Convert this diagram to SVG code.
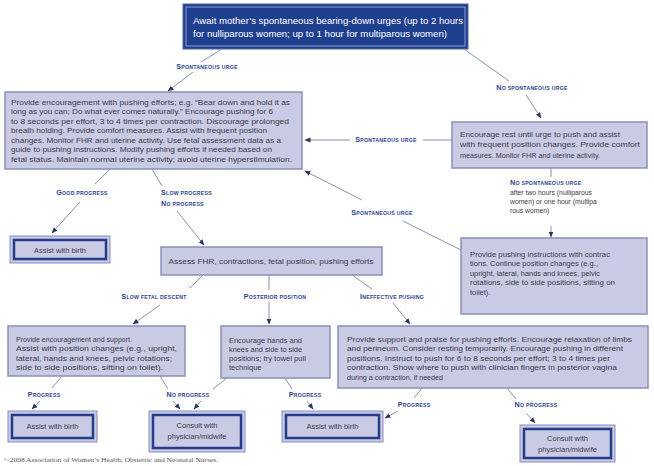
<svg xmlns="http://www.w3.org/2000/svg" width="654" height="466" viewBox="0 0 654 466">
<defs>
<marker id="ah" markerUnits="userSpaceOnUse" markerWidth="6" markerHeight="6" refX="5.5" refY="3" orient="auto"><path d="M0,0.5 L6,3 L0,5.5 z" fill="#2a3566"/></marker>
<style>
.box{fill:#c9cae4;stroke:#8a8fb8;stroke-width:1.5}
.t{font-family:"Liberation Sans",Arial,sans-serif;font-size:7.5px;fill:#3b3b4a}
.lb{font-family:"Liberation Sans",Arial,sans-serif;font-size:5.2px;font-weight:bold;fill:#2c4390;letter-spacing:0.25px}
.lb .c{font-size:7.2px}
.sub{font-family:"Liberation Sans",Arial,sans-serif;font-size:6.8px;fill:#3b3b4a}
.cn line,.cn path{stroke:#8b8fb3;stroke-width:1;fill:none}
.ar{marker-end:url(#ah)}
.touter{fill:#c9cae4;stroke:#8a8fb8;stroke-width:1}
.tinner{fill:#c9cae4;stroke:#243c8a;stroke-width:2.5}
</style>
</defs>
<rect width="654" height="466" fill="#ffffff"/>

<g id="top">
<rect x="183" y="4" width="285" height="45" fill="#1f3f8f" stroke="#4f65a8" stroke-width="1"/>
<rect x="186" y="7" width="279" height="39" fill="none" stroke="#aab6da" stroke-width="0.8"/>
<text x="193" y="24" font-family="'Liberation Sans',Arial,sans-serif" font-size="9.3" fill="#ffffff" textLength="270" lengthAdjust="spacingAndGlyphs">Await mother’s spontaneous bearing-down urges (up to 2 hours</text>
<text x="193" y="37" font-family="'Liberation Sans',Arial,sans-serif" font-size="9.3" fill="#ffffff" textLength="254" lengthAdjust="spacingAndGlyphs">for nulliparous women; up to 1 hour for multiparous women)</text>
</g>

<g id="boxA">
<rect class="box" x="5" y="92" width="297" height="77"/>
<text class="t" x="11" y="104.5" textLength="279" lengthAdjust="spacingAndGlyphs">Provide encouragement with pushing efforts; e.g. “Bear down and hold it as</text>
<text class="t" x="11" y="114" textLength="262" lengthAdjust="spacingAndGlyphs">long as you can; Do what ever comes naturally.” Encourage pushing for 6</text>
<text class="t" x="11" y="123.5" textLength="278" lengthAdjust="spacingAndGlyphs">to 8 seconds per effort, 3 to 4 times per contraction. Discourage prolonged</text>
<text class="t" x="11" y="133" textLength="256" lengthAdjust="spacingAndGlyphs">breath holding. Provide comfort measures. Assist with frequent position</text>
<text class="t" x="11" y="142.5" textLength="270" lengthAdjust="spacingAndGlyphs">changes. Monitor FHR and uterine activity. Use fetal assessment data as a</text>
<text class="t" x="11" y="152" textLength="261" lengthAdjust="spacingAndGlyphs">guide to pushing instructions. Modify pushing efforts if needed based on</text>
<text class="t" x="11" y="161.5" textLength="281" lengthAdjust="spacingAndGlyphs">fetal status. Maintain normal uterine activity; avoid uterine hyperstimulation.</text>
</g>

<g id="boxB">
<rect class="box" x="452" y="122" width="195" height="46"/>
<text class="t" x="460" y="136.5" textLength="160" lengthAdjust="spacingAndGlyphs">Encourage rest until urge to push and assist</text>
<text class="t" x="460" y="147" textLength="180" lengthAdjust="spacingAndGlyphs">with frequent position changes.  Provide comfort</text>
<text class="t" x="460" y="157.5" textLength="140" lengthAdjust="spacingAndGlyphs">measures.  Monitor FHR and uterine activity.</text>
</g>

<g id="boxC">
<rect class="box" x="461" y="238" width="186" height="76"/>
<text class="t" x="470" y="256.5" textLength="140" lengthAdjust="spacingAndGlyphs">Provide pushing instructions with contrac</text>
<text class="t" x="470" y="266" textLength="128" lengthAdjust="spacingAndGlyphs">tions. Continue position changes (e.g.,</text>
<text class="t" x="470" y="275.5" textLength="130" lengthAdjust="spacingAndGlyphs">upright, lateral, hands and knees, pelvic</text>
<text class="t" x="470" y="285" textLength="145" lengthAdjust="spacingAndGlyphs">rotations, side to side positions, sitting on</text>
<text class="t" x="470" y="294.5">toilet).</text>
</g>

<g id="assess">
<rect class="box" x="161" y="247" width="221" height="28"/>
<text class="t" x="271" y="263.5" text-anchor="middle" textLength="205" lengthAdjust="spacingAndGlyphs">Assess FHR, contractions, fetal position, pushing efforts</text>
</g>

<g id="boxD">
<rect class="box" x="8" y="326" width="177" height="50"/>
<text class="t" x="16" y="341.5" textLength="116" lengthAdjust="spacingAndGlyphs">Provide encouragement and support.</text>
<text class="t" x="16" y="351" textLength="161" lengthAdjust="spacingAndGlyphs">Assist with position changes (e.g., upright,</text>
<text class="t" x="16" y="360.5" textLength="156" lengthAdjust="spacingAndGlyphs">lateral, hands and knees, pelvic rotations;</text>
<text class="t" x="16" y="370" textLength="147" lengthAdjust="spacingAndGlyphs">side to side positions, sitting on toilet).</text>
</g>

<g id="boxE">
<rect class="box" x="221" y="326" width="109" height="52"/>
<text class="t" x="229" y="342.5" textLength="73" lengthAdjust="spacingAndGlyphs">Encourage hands and</text>
<text class="t" x="229" y="351.5" textLength="73" lengthAdjust="spacingAndGlyphs">knees and side to side</text>
<text class="t" x="229" y="360.5" textLength="77" lengthAdjust="spacingAndGlyphs">positions; try towel pull</text>
<text class="t" x="229" y="369.5">technique</text>
</g>

<g id="boxF">
<rect class="box" x="338" y="326" width="310" height="62"/>
<text class="t" x="347" y="341.5" textLength="285" lengthAdjust="spacingAndGlyphs">Provide support and praise for pushing efforts. Encourage relaxation of limbs</text>
<text class="t" x="347" y="351" textLength="276" lengthAdjust="spacingAndGlyphs">and perineum. Consider resting temporarily. Encourage pushing in different</text>
<text class="t" x="347" y="360.5" textLength="263" lengthAdjust="spacingAndGlyphs">positions. Instruct to push for 6 to 8 seconds per effort; 3 to 4 times per</text>
<text class="t" x="347" y="370" textLength="270" lengthAdjust="spacingAndGlyphs">contraction. Show where to push with clinician fingers in posterior vagina</text>
<text class="t" x="347" y="379.5" textLength="96" lengthAdjust="spacingAndGlyphs">during a contraction, if needed</text>
</g>

<g id="birth1">
<rect class="touter" x="10" y="236" width="100" height="27"/>
<rect class="tinner" x="14" y="240" width="92" height="19"/>
<text class="t" x="60" y="252.5" text-anchor="middle">Assist with birth</text>
</g>
<g id="birth2">
<rect class="touter" x="8" y="411" width="89" height="31"/>
<rect class="tinner" x="12" y="415" width="81" height="23"/>
<text class="t" x="52.5" y="429" text-anchor="middle">Assist with birth</text>
</g>
<g id="consult1">
<rect class="touter" x="149" y="411" width="96" height="41"/>
<rect class="tinner" x="153" y="415" width="88" height="33"/>
<text class="t" x="197" y="428" text-anchor="middle">Consult with</text>
<text class="t" x="197" y="439" text-anchor="middle">physician/midwife</text>
</g>
<g id="birth3">
<rect class="touter" x="282" y="411" width="101" height="31"/>
<rect class="tinner" x="286" y="415" width="93" height="23"/>
<text class="t" x="332.5" y="429" text-anchor="middle">Assist with birth</text>
</g>
<g id="consult2">
<rect class="touter" x="520" y="425" width="95" height="37"/>
<rect class="tinner" x="524" y="429" width="87" height="29"/>
<text class="t" x="567.5" y="441" text-anchor="middle">Consult with</text>
<text class="t" x="567.5" y="452" text-anchor="middle">physician/midwife</text>
</g>

<g id="connectors" class="cn">
<line x1="222" y1="49" x2="201" y2="62"/>
<line class="ar" x1="193" y1="72" x2="168" y2="91"/>
<line x1="464" y1="49" x2="509" y2="81"/>
<line class="ar" x1="526" y1="95" x2="541" y2="118"/>
<line x1="452" y1="140" x2="423" y2="140"/>
<line class="ar" x1="350" y1="140" x2="305" y2="140"/>
<line x1="551" y1="168" x2="551" y2="177"/>
<line class="ar" x1="551" y1="226" x2="551" y2="237"/>
<line x1="461" y1="250" x2="403" y2="221"/>
<line class="ar" x1="362" y1="200" x2="305" y2="171"/>
<line x1="110" y1="169" x2="95" y2="184"/>
<line class="ar" x1="80" y1="202" x2="52" y2="233"/>
<line x1="152" y1="169" x2="162" y2="186"/>
<line class="ar" x1="177" y1="211" x2="204" y2="245"/>
<line x1="203" y1="275" x2="190" y2="288"/>
<line class="ar" x1="160" y1="305" x2="133" y2="324"/>
<line x1="269" y1="275" x2="269" y2="290"/>
<line class="ar" x1="269" y1="302" x2="269" y2="324"/>
<line x1="352" y1="275" x2="372" y2="289"/>
<line class="ar" x1="393" y1="303" x2="410" y2="324"/>
<line x1="62" y1="376" x2="52" y2="388"/>
<line class="ar" x1="40" y1="401" x2="32" y2="409"/>
<line x1="160" y1="376" x2="168" y2="389"/>
<line class="ar" x1="173" y1="401" x2="180" y2="409"/>
<line x1="227" y1="378" x2="213" y2="389"/>
<line class="ar" x1="201" y1="401" x2="194" y2="409"/>
<line x1="285" y1="378" x2="292" y2="389"/>
<line class="ar" x1="307" y1="401" x2="313" y2="409"/>
<line x1="422" y1="388" x2="414" y2="398"/>
<line class="ar" x1="398" y1="411" x2="385" y2="418"/>
<line x1="507" y1="388" x2="516" y2="399"/>
<line class="ar" x1="526" y1="413" x2="535" y2="423"/>
</g>

<g id="labels">
<text class="lb" x="207" y="69" text-anchor="middle"><tspan class="c">S</tspan>PONTANEOUS URGE</text>
<text class="lb" x="532" y="90" text-anchor="middle"><tspan class="c">N</tspan>O SPONTANEOUS URGE</text>
<text class="lb" x="386" y="142" text-anchor="middle"><tspan class="c">S</tspan>PONTANEOUS URGE</text>
<text class="lb" x="382" y="215" text-anchor="middle"><tspan class="c">S</tspan>PONTANEOUS URGE</text>
<text class="lb" x="82" y="195" text-anchor="middle"><tspan class="c">G</tspan>OOD PROGRESS</text>
<text class="lb" x="161" y="195"><tspan class="c">S</tspan>LOW PROGRESS</text>
<text class="lb" x="161" y="206"><tspan class="c">N</tspan>O PROGRESS</text>
<text class="lb" x="510" y="185"><tspan class="c">N</tspan>O SPONTANEOUS URGE</text>
<text class="sub" x="510" y="195">after two hours (nulliparous</text>
<text class="sub" x="510" y="204">women) or one hour (multipa</text>
<text class="sub" x="510" y="213">rous women)</text>
<text class="lb" x="154" y="299" text-anchor="middle"><tspan class="c">S</tspan>LOW FETAL DESCENT</text>
<text class="lb" x="275" y="299" text-anchor="middle"><tspan class="c">P</tspan>OSTERIOR POSITION</text>
<text class="lb" x="392" y="299" text-anchor="middle"><tspan class="c">I</tspan>NEFFECTIVE PUSHING</text>
<text class="lb" x="44" y="397" text-anchor="middle"><tspan class="c">P</tspan>ROGRESS</text>
<text class="lb" x="188" y="397" text-anchor="middle"><tspan class="c">N</tspan>O PROGRESS</text>
<text class="lb" x="305" y="397" text-anchor="middle"><tspan class="c">P</tspan>ROGRESS</text>
<text class="lb" x="414" y="407" text-anchor="middle"><tspan class="c">P</tspan>ROGRESS</text>
<text class="lb" x="536" y="407" text-anchor="middle"><tspan class="c">N</tspan>O PROGRESS</text>
</g>

<text x="4" y="462" font-family="'Liberation Serif','Times New Roman',serif" font-size="7" fill="#555555" textLength="214" lengthAdjust="spacingAndGlyphs">©2008 Association of Women’s Health, Obstetric and Neonatal Nurses.</text>
</svg>
